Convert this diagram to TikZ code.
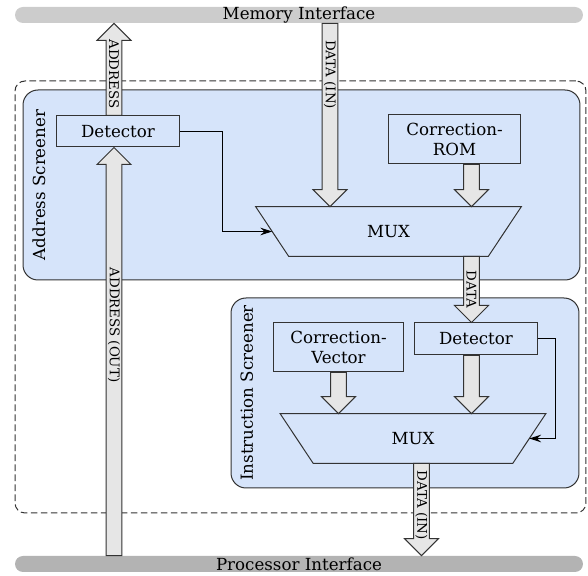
\documentclass[tikz,border=0pt]{standalone}
\usepackage{fontspec}
\setmainfont{DejaVu Serif}
\usetikzlibrary{positioning,arrows.meta,calc}
\definecolor{screenblue}{HTML}{D6E4FA}
\definecolor{busgray}{HTML}{E6E6E6}
\definecolor{linegray}{HTML}{333333}
\definecolor{memgray}{HTML}{CCCCCC}
\definecolor{procgray}{HTML}{B3B3B3}
% wide bus arrow: tail, tip, label position, label
\newcommand{\busarrow}[4]{%
  \path (#1) coordinate (bt) (#2) coordinate (bh);
  \coordinate (hb) at ($(bh)!10.2pt!(bt)$);
  \draw[busfill] ($(bt)!4.8pt!90:(bh)$) -- ($(hb)!4.8pt!-90:(bt)$) -- ($(hb)!10.2pt!-90:(bt)$) -- (bh)
    -- ($(hb)!10.2pt!90:(bt)$) -- ($(hb)!4.8pt!90:(bt)$) -- ($(bt)!4.8pt!-90:(bh)$) -- cycle;
  \path (bt) -- (bh) node[pos=#3,rotate=-90,font=\footnotesize] {#4};
}
% multiplexer outline around a node: name
\newcommand{\muxshape}[1]{%
  \draw[unit] (#1.north west) -- (#1.north east) -- ($(#1.south east)+(-33,0)$)
    -- ($(#1.south west)+(33,0)$) -- cycle;
  \node (#1txt) at (#1) {MUX};
}

\begin{document}
\begin{tikzpicture}[x=0.6pt,y=-0.6pt,
  screener/.style={draw=linegray,fill=screenblue,rounded corners=9pt,line width=0.6pt},
  unit/.style={draw=linegray,fill=screenblue,line width=0.6pt,align=center,inner sep=0pt},
  mux/.style={minimum width=159pt,minimum height=29.4pt,inner sep=0pt},
  bar/.style={rounded corners=4.8pt,minimum width=340.8pt,minimum height=9.6pt,inner sep=0pt},
  busfill/.style={draw=linegray,fill=busgray,line width=0.6pt},
  sig/.style={draw=black,line width=0.6pt,-{Stealth[length=7pt,width=4.5pt]}}
]
\useasboundingbox (0,0) rectangle (588,576);

\node[draw=linegray,line width=0.6pt,dash pattern=on 4pt off 2pt,rounded corners=6pt,minimum width=342.6pt,minimum height=259.2pt] (board) at (300.5,297) {};
\node[screener,minimum width=334.2pt,minimum height=114pt] (addrscr) at (301.5,185) {};
\node[screener,minimum width=208.8pt,minimum height=114pt] (instrscr) at (405,393) {};
\node[rotate=90,anchor=north] (addrlbl) at ($(addrscr.west)+(4,0)$) {Address Screener};
\node[rotate=90,anchor=north] (instrlbl) at ($(instrscr.west)+(4,0)$) {Instruction Screener};

\node[unit,minimum width=74.4pt,minimum height=18.6pt] (det1) at (118,131.5) {Detector};
\node[unit,minimum width=79.8pt,minimum height=29.4pt] (crom) at (454.5,139.5) {Correction-\\ROM};
\node[mux] (mux1) at (388.5,231.5) {};
\muxshape{mux1}
\node[unit,minimum width=78.6pt,minimum height=29.4pt] (cvec) at (338.5,347.5) {Correction-\\Vector};
\node[unit,minimum width=74.4pt,minimum height=19.2pt] (det2) at (476,339) {Detector};
\node[mux] (mux2) at (413,438.5) {};
\muxshape{mux2}

\node[bar,fill=memgray] (membar) at (299,15) {};
\node (memtxt) at (membar.center) {Memory Interface};
\node[bar,fill=procgray] (procbar) at (299,564) {};
\node (proctxt) at (procbar.center) {Processor Interface};

\coordinate (abus) at (114,0);
\coordinate (dbus) at (330,0);
\coordinate (col) at (471.5,0);
\coordinate (obus) at (421.5,0);

\busarrow{abus |- det1.north}{abus |- membar.south}{0.45}{ADDRESS}
\busarrow{dbus |- membar.south}{dbus |- mux1.north}{0.28}{DATA (IN)}
\busarrow{col |- crom.south}{col |- mux1.north}{0.5}{}
\busarrow{col |- mux1.south}{col |- det2.north}{0.5}{DATA}
\busarrow{cvec.south}{cvec.south |- mux2.north}{0.5}{}
\busarrow{col |- det2.south}{col |- mux2.north}{0.5}{}
\busarrow{obus |- mux2.south}{obus |- procbar.north}{0.45}{DATA (IN)}
\busarrow{abus |- procbar.north}{abus |- det1.south}{0.565}{ADDRESS (OUT)}

\draw[sig] (det1.east) -- ++(42,0) |- ($(mux1.west)+(16.5,0)$);
\draw[sig] (det2.east) -- ++(17,0) |- ($(mux2.east)+(-16.5,0)$);
\end{tikzpicture}
\end{document}
